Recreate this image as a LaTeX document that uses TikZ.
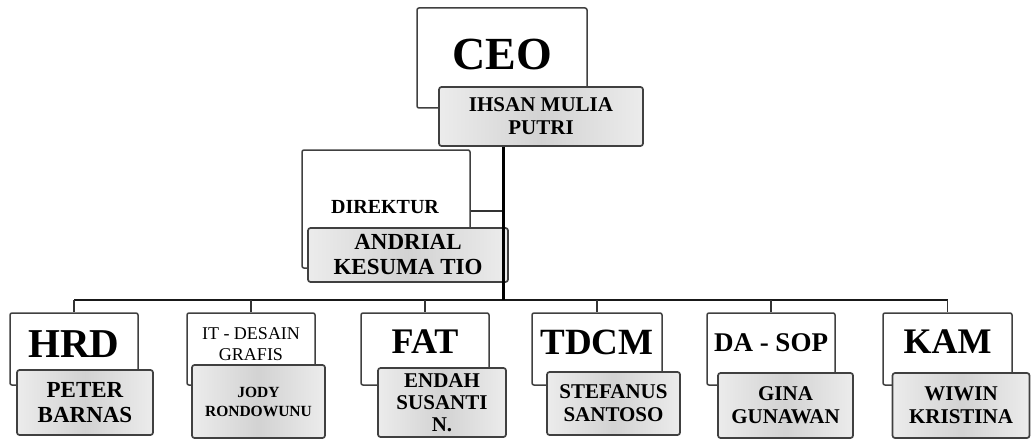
\documentclass[tikz,border=0pt]{standalone}
\usepackage{fontspec}
\setmainfont{Liberation Serif}
\tikzset{
  rolebox/.style={draw=black!75, line width=1.5pt, fill=white, rounded corners=2pt, inner sep=0pt},
  namebox/.style={draw=black!75, line width=1.7pt, rounded corners=2.5pt, inner sep=0pt,
    left color=gray!15, right color=gray!15, middle color=gray!35, align=center,
    font=\bfseries\fontsize{21}{23}\selectfont},
  title/.style={inner sep=0pt, align=center, font=\bfseries\fontsize{#1}{#1}\selectfont},
  trunk/.style={draw=black, line width=3pt},
  bus/.style={draw=black!90, line width=2.2pt},
  link/.style={draw=black!80, line width=1.4pt}
}
\begin{document}
\begin{tikzpicture}[x=1pt,y=-1pt]
\useasboundingbox (0,0) rectangle (1032,441);
% CEO
\node[rolebox, minimum width=170pt, minimum height=100pt] (ceo) at (502,58) {};
\node[title=46] (ceot) at (502,54) {CEO};
\node[namebox, minimum width=204pt, minimum height=59pt] (ceoname) at (541,116.5) {IHSAN MULIA\\PUTRI};
% Direktur
\node[rolebox, minimum width=168pt, minimum height=118pt] (dir) at (386,209) {};
\node[title=20] (dirt) at (385,207) {DIREKTUR};
\node[namebox, minimum width=200pt, minimum height=54pt, font=\bfseries\fontsize{23}{25}\selectfont] (dirname) at (408,255) {ANDRIAL\\KESUMA TIO};
% bottom row
\node[rolebox, minimum width=128pt, minimum height=72pt] (hrd) at (74,349) {};
\node[title=41] (hrdt) at (74,344) {HRD};
\node[namebox, minimum width=136pt, minimum height=65pt, font=\bfseries\fontsize{23}{25}\selectfont] (hrdname) at (85,402.5) {PETER\\BARNAS};

\node[rolebox, minimum width=128pt, minimum height=72pt] (it) at (251,349) {};
\node[inner sep=0pt, align=center, font=\fontsize{18}{21}\selectfont] (itt) at (251,344) {IT - DESAIN\\GRAFIS};
\node[namebox, minimum width=133pt, minimum height=73pt, font=\bfseries\fontsize{15.5}{19}\selectfont] (itname) at (258.5,401.5) {JODY\\RONDOWUNU};

\node[rolebox, minimum width=128pt, minimum height=72pt] (fat) at (425,349) {};
\node[title=36] (fatt) at (425,342) {FAT};
\node[namebox, minimum width=128pt, minimum height=69pt, font=\bfseries\fontsize{21}{22}\selectfont] (fatname) at (442,402.5) {ENDAH\\SUSANTI\\N.};

\node[rolebox, minimum width=130pt, minimum height=72pt] (tdcm) at (597,349) {};
\node[title=37] (tdcmt) at (597,342) {TDCM};
\node[namebox, minimum width=133pt, minimum height=63pt] (tdcmname) at (613.5,403.5) {STEFANUS\\SANTOSO};

\node[rolebox, minimum width=128pt, minimum height=72pt] (da) at (771,349) {};
\node[title=27] (dat) at (771,343) {DA - SOP};
\node[namebox, minimum width=135pt, minimum height=65pt] (daname) at (785.5,405.5) {GINA\\GUNAWAN};

\node[rolebox, minimum width=129pt, minimum height=72pt] (kam) at (947.5,349) {};
\node[title=36] (kamt) at (947.5,342) {KAM};
\node[namebox, minimum width=137pt, minimum height=65pt] (kamname) at (961,405.5) {WIWIN\\KRISTINA};
% connectors
\coordinate (junc) at (503,300);
\coordinate (dj) at (503,211);
\coordinate (busL) at (74,300);
\coordinate (busR) at (948,300);
\draw[link] (dj -| dir.east) -- (dj);
\draw[bus] (busL) -- (busR);
\draw[trunk] (ceoname.south -| junc) -- (junc);
\foreach \n in {hrd,it,fat,tdcm,da,kam}
  \draw[link] (\n.north |- junc) -- (\n.north);
\end{tikzpicture}
\end{document}
